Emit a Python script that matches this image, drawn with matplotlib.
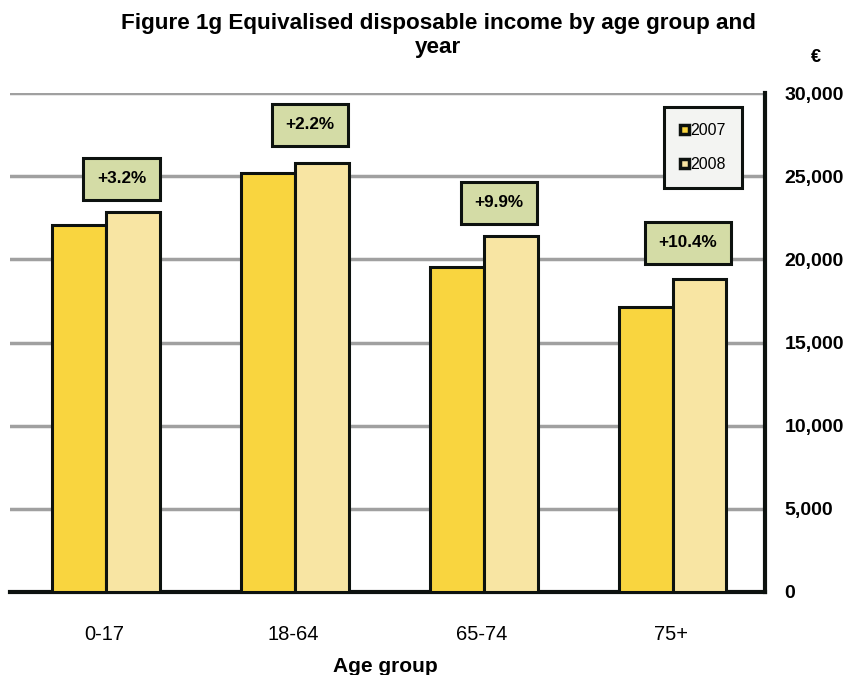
import matplotlib
matplotlib.use("Agg")
import matplotlib.pyplot as plt
import numpy as np

categories = ["0-17", "18-64", "65-74", "75+"]
series_names = ["2007", "2008"]
values_2007 = [22100, 25200, 19550, 17150]
values_2008 = [22850, 25800, 21400, 18850]
change_labels = ["+3.2%", "+2.2%", "+9.9%", "+10.4%"]
yticks = [0, 5000, 10000, 15000, 20000, 25000, 30000]

plt.rcParams['font.family'] = ['Liberation Sans', 'DejaVu Sans']

fig = plt.figure(figsize=(8.48, 6.75), dpi=100)
ax = fig.add_axes([0.0118, 0.123, 0.8904, 0.739])

x = np.arange(len(categories))
w = 0.285
c07 = "#F9D53F"
c08 = "#F8E5A3"
ax.bar(x - w/2 + 0.01, values_2007, w, color=c07, edgecolor="#0d120f", linewidth=2.2, zorder=3, label=series_names[0])
ax.bar(x + w/2 + 0.01, values_2008, w, color=c08, edgecolor="#0d120f", linewidth=2.2, zorder=3, label=series_names[1])

ax.set_xlim(-0.5, 3.5)
ax.set_ylim(0, 30000)
ax.yaxis.tick_right()
ax.set_yticks(yticks)
ax.set_yticklabels([f"{v:,}" for v in yticks], fontweight="bold", fontsize=14)
ax.tick_params(axis="y", length=0, pad=14)
ax.set_xticks(x)
ax.set_xticklabels(categories, fontsize=14.5)
ax.tick_params(axis="x", length=0, pad=24)
ax.grid(axis="y", color="#a0a0a0", linewidth=2.5, zorder=0)
for s in ["top", "left"]:
    ax.spines[s].set_visible(False)
ax.spines["right"].set_linewidth(3)
ax.spines["bottom"].set_linewidth(3)
ax.spines["right"].set_color("#0d120f")
ax.spines["bottom"].set_color("#0d120f")

offsets_y = [2000, 2300, 2000, 2150]
for i, lab in enumerate(change_labels):
    ax.text(x[i] + 0.09, values_2008[i] + offsets_y[i], lab, ha="center", va="center",
            fontsize=12.3, fontweight="bold", zorder=5,
            bbox=dict(boxstyle="square,pad=0.8", facecolor="#D4DCA6", edgecolor="#0d120f", linewidth=2.2))

leg = ax.legend(loc="upper right", bbox_to_anchor=(0.9695, 0.972), fontsize=11.5,
                frameon=True, fancybox=False, handlelength=0.55, handleheight=0.55,
                handletextpad=0.1, labelspacing=1.2, borderpad=1.0, borderaxespad=0)
leg.get_frame().set_edgecolor("#0d120f")
leg.get_frame().set_linewidth(2.2)
leg.get_frame().set_facecolor("#F3F4F2")
leg.get_frame().set_alpha(1)
for h in leg.legend_handles:
    h.set_linewidth(2.5)

fig.text(0.517, 0.981, "Figure 1g Equivalised disposable income by age group and\nyear",
         ha="center", va="top", fontsize=16.2, fontweight="bold", linespacing=1.18)
fig.text(0.962, 0.915, "€", ha="center", va="center", fontsize=13, fontweight="bold")
fig.text(0.455, -0.002, "Age group", ha="center", va="bottom", fontsize=15, fontweight="bold")

fig.savefig("out.png", dpi=100)
